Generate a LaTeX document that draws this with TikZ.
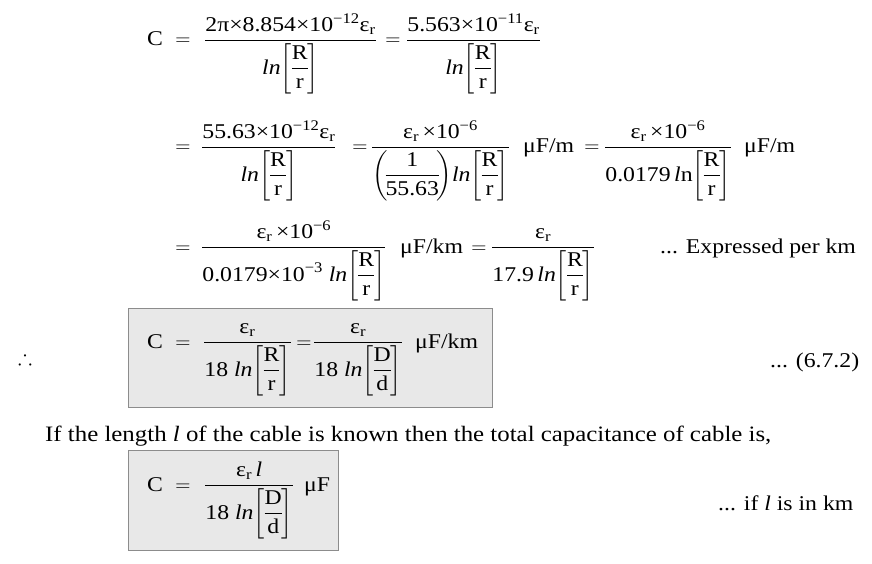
\RequirePackage{fix-cm}
\documentclass[tikz,border=0pt]{standalone}
\usepackage{amsmath,amssymb}
\usepackage{fontspec}
\setmainfont{Liberation Serif}[FakeStretch=1.13]
\usepackage{tikz}
\usetikzlibrary{positioning}

\newcommand{\er}{\text{ε}_{\text{r}}}
\newcommand{\brk}[2]{{\left[\mkern-1mu\dfrac{\text{#1}}{\text{#2}}\mkern-1mu\right]}}
\newcommand{\lnb}[2]{\text{\itshape ln}\brk{#1}{#2}}

\tikzset{
  eq/.style={anchor=base, inner sep=0pt, font=\fontsize{21}{25}\selectfont},
  eqw/.style={eq, anchor=base west},
  txt/.style={anchor=base west, inner sep=0pt, font=\fontsize{21}{25}\selectfont},
  resultbox/.style={fill=black!9, draw=black!45, line width=1}
}

\begin{document}
\begin{tikzpicture}[x=1pt, y={(0pt,-1pt)}]
\useasboundingbox (0,0) rectangle (872,564);
% first line
\node[eq] (c1) at (155,46) {C};
\node[eq] (eq1) at (183,46) {$=$};
\node[eqw] (f1a) at (204,46) {$\dfrac{\text{2π×8.854×10}^{\text{−12}}\er}{\lnb{R}{r}}$};
\node[eq] (eq1b) at (393,46) {$=$};
\node[eqw] (f1b) at (406,46) {$\dfrac{\text{5.563×10}^{\text{−11}}\er}{\lnb{R}{r}}$};
% second line
\node[eq] (eq2) at (183,153) {$=$};
\node[eqw] (f2a) at (201,153) {$\dfrac{\text{55.63×10}^{\text{−12}}\er}{\lnb{R}{r}}$};
\node[eq] (eq2b) at (360,153) {$=$};
\node[eqw] (f2b) at (371,153) {$\dfrac{\er\,\text{×10}^{\text{−6}}}{{\left(\!\dfrac{\text{1}}{\text{55.63}}\!\right)}\lnb{R}{r}}$};
\node[eqw] (u2a) at (523,153) {μF/m};
\node[eq] (eq2c) at (592,153) {$=$};
\node[eqw] (f2c) at (604,153) {$\dfrac{\er\,\text{×10}^{\text{−6}}}{\text{0.0179\,\itshape l\upshape n}\brk{R}{r}}$};
\node[eqw] (u2b) at (744,153) {μF/m};
% third line
\node[eq] (eq3) at (183,253) {$=$};
\node[eqw] (f3a) at (201,253) {$\dfrac{\er\,\text{×10}^{\text{−6}}}{\text{0.0179×10}^{\text{−3}}\ \lnb{R}{r}}$};
\node[eqw] (u3a) at (400,253) {μF/km};
\node[eq] (eq3b) at (479,253) {$=$};
\node[eqw] (f3b) at (491,253) {$\dfrac{\er}{\text{17.9\,}\lnb{R}{r}}$};
\node[txt] (n3) at (660,253) {... Expressed per km};
% boxed result
\draw[resultbox] (128,308) rectangle (492,407);
\node[eq] (th) at (25,364) {$\therefore$};
\node[eq] (c4) at (155,348) {C};
\node[eq] (eq4) at (183,348) {$=$};
\node[eqw] (f4a) at (203,348) {$\dfrac{\er}{\text{18 }\lnb{R}{r}}$};
\node[eq] (eq4b) at (304,348) {$=$};
\node[eqw] (f4b) at (313,348) {$\dfrac{\er}{\text{18 }\lnb{D}{d}}$};
\node[eqw] (u4) at (415,348) {μF/km};
\node[txt] (n4) at (770,367) {... (6.7.2)};
% length line
\node[txt, font=\fontsize{22}{25}\selectfont] (tl) at (45,441) {If the length \textit{l} of the cable is known then the total capacitance of cable is,};
% second box
\draw[resultbox] (128,450) rectangle (338,550);
\node[eq] (c5) at (155,491) {C};
\node[eq] (eq5) at (183,491) {$=$};
\node[eqw] (f5) at (204,491) {$\dfrac{\er\,\text{\itshape l}}{\text{18 }\lnb{D}{d}}$};
\node[eqw] (u5) at (304,491) {μF};
\node[txt] (n5) at (718,510) {... if \textit{l} is in km};
\end{tikzpicture}
\end{document}
